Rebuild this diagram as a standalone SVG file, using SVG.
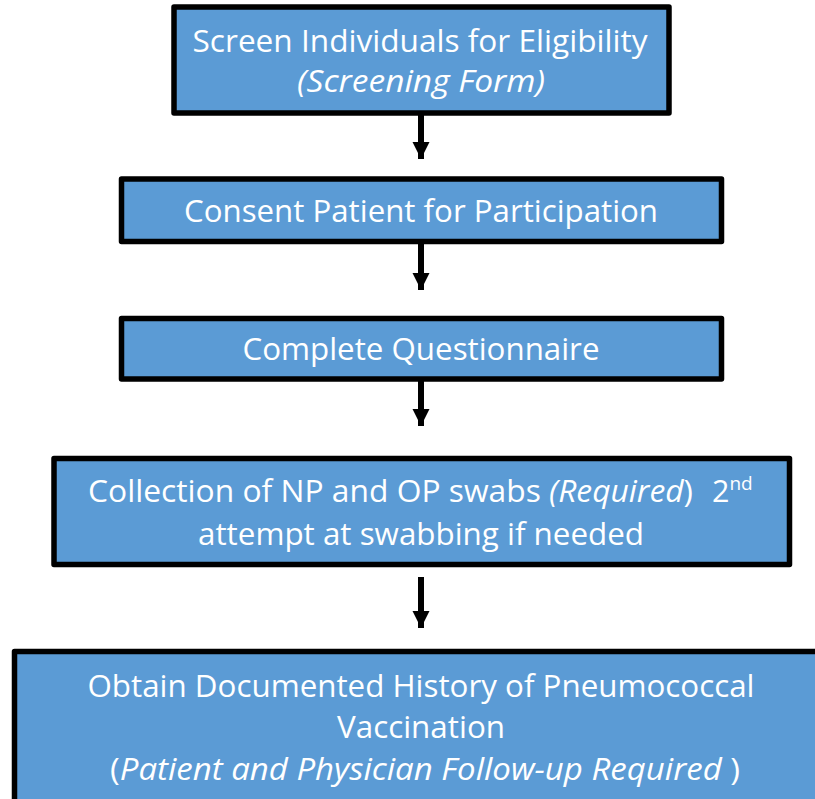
<svg xmlns="http://www.w3.org/2000/svg" width="815" height="799" viewBox="0 0 815 799">
  <defs>
    <marker id="arrowhead" viewBox="0 0 10 10" refX="10" refY="5" markerWidth="2.9" markerHeight="3" orient="auto" markerUnits="strokeWidth">
      <path d="M0,0 L10,5 L0,10 Z" fill="#000"/>
    </marker>
  </defs>
  <style>
    .box { fill: #5B9BD5; stroke: #000; stroke-width: 5.5; stroke-linejoin: round; }
    .label { fill: #fff; font-family: "Open Sans", "Noto Sans", sans-serif; font-size: 30.5px; text-anchor: middle; }
    .it { font-style: italic; }
    .conn { stroke: #000; stroke-width: 6; fill: none; }
  </style>

  <g id="connectors">
    <line class="conn" x1="421" y1="114" x2="421" y2="159" marker-end="url(#arrowhead)"/>
    <line class="conn" x1="421" y1="243" x2="421" y2="290" marker-end="url(#arrowhead)"/>
    <line class="conn" x1="421" y1="381" x2="421" y2="426" marker-end="url(#arrowhead)"/>
    <line class="conn" x1="421" y1="577" x2="421" y2="628" marker-end="url(#arrowhead)"/>
  </g>

  <g id="screen">
    <rect class="box" x="174" y="7" width="495" height="106"/>
    <text class="label" x="420" y="52" textLength="455" lengthAdjust="spacingAndGlyphs">Screen Individuals for Eligibility</text>
    <text class="label it" x="421" y="92" textLength="248" lengthAdjust="spacingAndGlyphs">(Screening Form)</text>
  </g>

  <g id="consent">
    <rect class="box" x="121.5" y="179" width="600" height="62.5"/>
    <text class="label" x="421" y="222" textLength="474" lengthAdjust="spacingAndGlyphs">Consent Patient for Participation</text>
  </g>

  <g id="questionnaire">
    <rect class="box" x="121.5" y="318.5" width="600" height="60.5"/>
    <text class="label" x="421" y="360" textLength="357" lengthAdjust="spacingAndGlyphs">Complete Questionnaire</text>
  </g>

  <g id="swabs">
    <rect class="box" x="54" y="458.5" width="735.5" height="106"/>
    <text class="label" x="88" y="502" style="text-anchor:start" textLength="605" lengthAdjust="spacingAndGlyphs">Collection of NP and OP swabs <tspan class="it">(Required</tspan>)</text>
    <text class="label" x="712" y="502" style="text-anchor:start">2<tspan font-size="19" dy="-12">nd</tspan></text>
    <text class="label" x="421" y="545" textLength="446" lengthAdjust="spacingAndGlyphs">attempt at swabbing if needed</text>
  </g>

  <g id="history">
    <rect class="box" x="14.5" y="651.5" width="810" height="160"/>
    <text class="label" x="421" y="697" textLength="667" lengthAdjust="spacingAndGlyphs">Obtain Documented History of Pneumococcal</text>
    <text class="label" x="421" y="738" textLength="168" lengthAdjust="spacingAndGlyphs">Vaccination</text>
    <text class="label" x="425" y="780" textLength="630" lengthAdjust="spacingAndGlyphs">(<tspan class="it">Patient and Physician Follow-up Required </tspan>)</text>
  </g>
</svg>
